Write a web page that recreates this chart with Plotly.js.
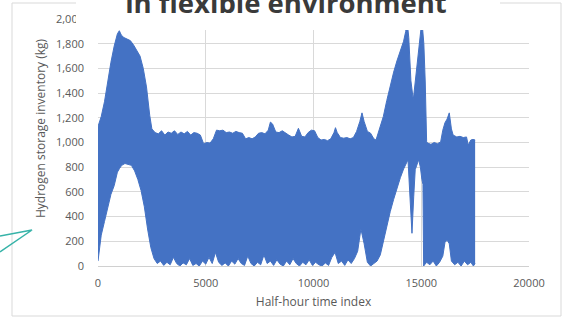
<!DOCTYPE html>
<html>
<head>
<meta charset="utf-8">
<script src="https://cdn.plot.ly/plotly-3.0.1.min.js"></script>
<style>html,body{margin:0;padding:0;background:#fff;}#chart{width:567px;height:336px;}</style>
</head>
<body>
<div id="chart"></div>
<script>
// Upper envelope of the hydrogen storage inventory oscillation (kg)
var upperIndex = [0,80,150,300,450,600,750,900,990,1080,1200,1350,1500,1650,1800,1950,2100,2250,2400,2500,2650,2800,2950,3100,3250,3400,3550,3700,3850,4000,4150,4300,4450,4600,4750,4900,5050,5200,5350,5500,5650,5800,5950,6100,6250,6400,6550,6700,6850,7000,7150,7300,7450,7600,7750,7900,8000,8100,8250,8400,8550,8700,8850,9000,9150,9300,9450,9600,9750,9900,10050,10200,10350,10500,10650,10800,10950,11020,11100,11250,11400,11550,11700,11850,12000,12150,12250,12350,12500,12650,12800,12900,13010,13120,13240,13400,13560,13720,13870,14030,14180,14280,14340,14420,14520,14630,14720,14880,14980,15030,15120,15185,15250,15300,15450,15600,15750,15900,16000,16100,16200,16300,16400,16480,16650,16800,16950,17100,17180,17300,17400,17500];
var upperKg = [1130,1180,1210,1330,1500,1650,1780,1880,1905,1870,1850,1835,1825,1790,1750,1700,1600,1450,1220,1110,1080,1070,1095,1060,1085,1075,1095,1065,1085,1070,1090,1060,1080,1075,1060,990,1000,995,1030,1100,1095,1100,1080,1085,1075,1090,1080,1075,1030,1040,1030,1045,1075,1080,1070,1100,1165,1150,1085,1080,1095,1075,1060,1045,1050,1115,1050,1045,1080,1100,1095,1040,1020,1025,1015,1030,1080,1120,1080,1040,1035,1040,1030,1040,1090,1170,1240,1170,1090,1075,1030,1020,1077,1130,1210,1340,1460,1570,1660,1750,1820,1900,1990,1850,1500,1345,1480,1726,1900,1990,1800,1490,1005,995,985,1000,990,1005,1100,1160,1190,1240,1110,1060,1045,1050,1040,1045,980,1020,1025,1020];

// Lower envelope (kg)
var lowerIndex = [0,80,150,300,450,600,750,900,1000,1100,1250,1400,1550,1700,1850,2000,2150,2300,2450,2600,2750,2900,3050,3200,3350,3500,3650,3800,3950,4100,4250,4400,4550,4700,4850,5000,5150,5300,5450,5600,5750,5900,6050,6200,6350,6500,6650,6800,6950,7100,7250,7400,7550,7700,7850,8000,8150,8300,8450,8600,8750,8900,9050,9200,9350,9500,9650,9800,9950,10100,10250,10400,10550,10700,10850,11000,11150,11300,11450,11600,11750,11900,12050,12200,12350,12500,12650,12800,12950,13100,13240,13400,13560,13720,13870,14030,14180,14300,14385,14480,14570,14650,14720,14880,14960,15030,15080,15110,15250,15400,15550,15700,15850,16000,16100,16200,16300,16400,16550,16700,16850,17000,17150,17300,17420,17500];
var lowerKg = [40,150,250,360,470,580,650,760,790,815,830,825,815,770,700,610,480,300,150,60,20,40,5,30,10,70,20,0,25,10,60,5,20,0,40,15,70,20,110,30,5,25,0,40,15,60,20,5,80,20,0,30,10,90,20,40,5,50,15,0,40,10,60,20,0,30,10,50,5,30,10,0,25,5,70,110,20,40,5,50,20,60,120,300,180,30,0,20,40,90,200,320,440,540,635,715,785,830,860,550,265,560,780,860,800,700,660,0,30,10,40,0,30,80,190,210,180,40,10,30,0,40,10,30,0,20];

var xTicks = [0,5000,10000,15000,20000];
var yTicks = [0,200,400,600,800,1000,1200,1400,1600,1800,2000];
var yTickText = ['0','200','400','600','800','1,000','1,200','1,400','1,600','1,800','2,000'];

var W = 567, H = 336;
var L = 98, R = 38, T = 19, B = 70;
var PW = W - L - R, PH = H - T - B;
function px(x){ return (x - L) / PW; }
function py(y){ return (H - B - y) / PH; }

var blue = '#4472C4';
var traces = [
  {x: lowerIndex, y: lowerKg, type: 'scatter', mode: 'lines', line: {color: blue, width: 1}, hoverinfo: 'skip', showlegend: false},
  {x: upperIndex, y: upperKg, type: 'scatter', mode: 'lines', fill: 'tonexty', fillcolor: blue, line: {color: blue, width: 1}, hoverinfo: 'skip', showlegend: false}
];

var grey = '#595959';
var layout = {
  width: W, height: H,
  margin: {l: L, r: R, t: T, b: B, pad: 0},
  paper_bgcolor: '#ffffff', plot_bgcolor: '#ffffff',
  font: {family: 'Open Sans, sans-serif', color: grey, size: 11},
  title: {text: 'in flexible environment', font: {family: 'Open Sans, sans-serif', size: 27.5, color: '#3a3a3a', weight: 'bold'},
          xref: 'container', x: 286 / W, xanchor: 'center', yref: 'container', y: 1 - 3.3 / H, yanchor: 'middle'},
  xaxis: {range: [0, 20000], tickvals: xTicks, ticktext: xTicks.map(String), showgrid: true, gridcolor: '#d9d9d9', gridwidth: 1,
          zeroline: false, showline: true, linecolor: '#d0d0d0', linewidth: 1, ticks: '', ticklabelstandoff: 7,
          tickfont: {size: 11, color: grey},
          title: {text: 'Half-hour time index', font: {size: 12, color: grey}, standoff: 8}},
  yaxis: {range: [0, 2000], tickvals: yTicks, ticktext: yTickText, showgrid: true, gridcolor: '#d9d9d9', gridwidth: 1,
          zeroline: false, showline: false, ticks: '', ticklabelstandoff: 13, tickfont: {size: 11, color: grey}},
  shapes: [
    {type: 'rect', xref: 'paper', yref: 'paper', x0: px(12), x1: px(561), y0: py(316), y1: py(3), line: {color: '#d9d9d9', width: 1}, fillcolor: 'rgba(0,0,0,0)', layer: 'above'},
    {type: 'rect', xref: 'paper', yref: 'paper', x0: px(76), x1: px(500), y0: py(30), y1: py(-3), line: {width: 0}, fillcolor: '#ffffff', layer: 'above'},
    {type: 'path', xref: 'paper', yref: 'paper', path: 'M ' + px(0) + ' ' + py(236) + ' L ' + px(32) + ' ' + py(230) + ' L ' + px(0) + ' ' + py(252),
     line: {color: '#36b3a8', width: 1.5}, layer: 'above'}
  ],
  annotations: [
    {text: 'Hydrogen storage inventory (kg)', xref: 'paper', yref: 'paper', x: px(41), y: py(128), textangle: -90,
     showarrow: false, xanchor: 'center', yanchor: 'middle', font: {size: 12, color: grey}}
  ]
};

Plotly.newPlot('chart', traces, layout, {displayModeBar: false, staticPlot: true});
</script>
</body>
</html>
